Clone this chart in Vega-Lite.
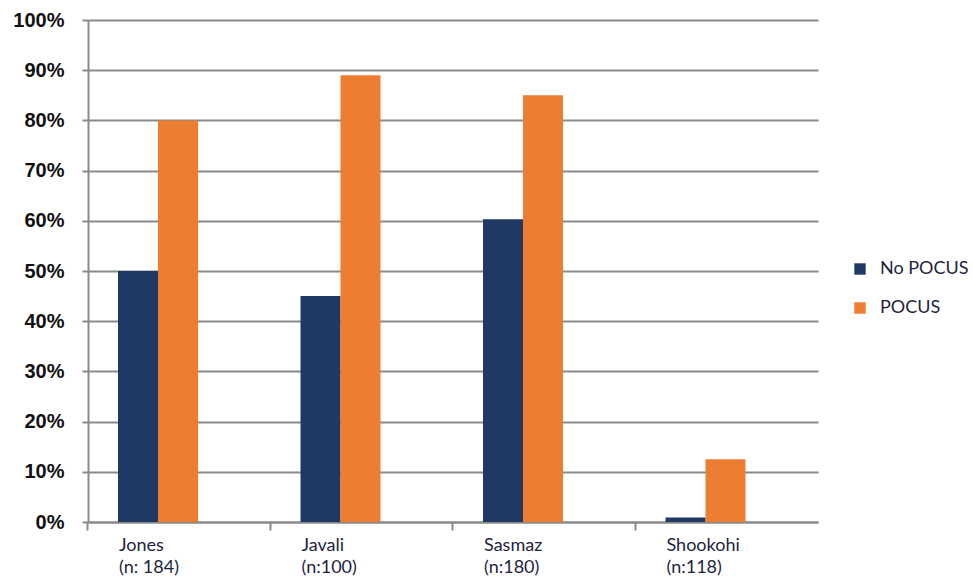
{
  "$schema": "https://vega.github.io/schema/vega-lite/v6.json",
  "width": 730,
  "height": 502,
  "autosize": {"type": "none"},
  "padding": {"left": 88, "top": 20, "right": 155, "bottom": 55},
  "background": "white",
  "data": {
    "values": [
      {"study": "Jones", "label": "Jones|(n: 184)", "group": "No POCUS", "value": 0.50},
      {"study": "Jones", "label": "Jones|(n: 184)", "group": "POCUS", "value": 0.80},
      {"study": "Javali", "label": "Javali|(n:100)", "group": "No POCUS", "value": 0.45},
      {"study": "Javali", "label": "Javali|(n:100)", "group": "POCUS", "value": 0.89},
      {"study": "Sasmaz", "label": "Sasmaz|(n:180)", "group": "No POCUS", "value": 0.603},
      {"study": "Sasmaz", "label": "Sasmaz|(n:180)", "group": "POCUS", "value": 0.85},
      {"study": "Shookohi", "label": "Shookohi|(n:118)", "group": "No POCUS", "value": 0.009},
      {"study": "Shookohi", "label": "Shookohi|(n:118)", "group": "POCUS", "value": 0.125}
    ]
  },
  "mark": {"type": "bar"},
  "encoding": {
    "x": {
      "field": "label",
      "type": "nominal",
      "sort": null,
      "title": null,
      "scale": {"paddingInner": 0.5616, "paddingOuter": 0.2808, "align": 0.2927},
      "axis": {
        "bandPosition": -0.375,
        "labelExpr": "split(datum.label, '|')",
        "labelAngle": 0,
        "labelAlign": "left",
        "labelBaseline": "top",
        "labelOffset": -39,
        "labelPadding": 6,
        "labelLineHeight": 22,
        "labelFont": "Lato",
        "labelFontSize": 18,
        "labelColor": "#231f40",
        "tickSize": 8,
        "tickColor": "#8a8a8a",
        "tickWidth": 2,
        "domainColor": "#8a8a8a",
        "domainWidth": 2,
        "grid": false
      }
    },
    "xOffset": {
      "field": "group",
      "type": "nominal",
      "scale": {"domain": ["No POCUS", "POCUS"], "paddingInner": 0, "paddingOuter": 0}
    },
    "y": {
      "field": "value",
      "type": "quantitative",
      "title": null,
      "scale": {"domain": [0, 1], "nice": false},
      "axis": {
        "values": [0, 0.1, 0.2, 0.3, 0.4, 0.5, 0.6, 0.7, 0.8, 0.9, 1.0],
        "format": ".0%",
        "labelFont": "Liberation Sans",
        "labelFontSize": 20,
        "labelFontWeight": "bold",
        "labelColor": "#111111",
        "labelPadding": 18,
        "tickSize": 6,
        "tickColor": "#8a8a8a",
        "tickWidth": 2,
        "domainColor": "#8a8a8a",
        "domainWidth": 2,
        "grid": true,
        "gridColor": "#8a8a8a",
        "gridWidth": 2
      }
    },
    "color": {
      "field": "group",
      "type": "nominal",
      "title": null,
      "scale": {"domain": ["No POCUS", "POCUS"], "range": ["#1f3864", "#ed7d31"]},
      "legend": {
        "orient": "none",
        "legendX": 763,
        "legendY": 240,
        "symbolType": "square",
        "symbolSize": 130,
        "symbolStrokeWidth": 0,
        "labelFont": "Lato",
        "labelFontSize": 18,
        "labelColor": "#231f40",
        "labelOffset": 11,
        "rowPadding": 21
      }
    }
  },
  "config": {
    "view": {"stroke": null}
  }
}
